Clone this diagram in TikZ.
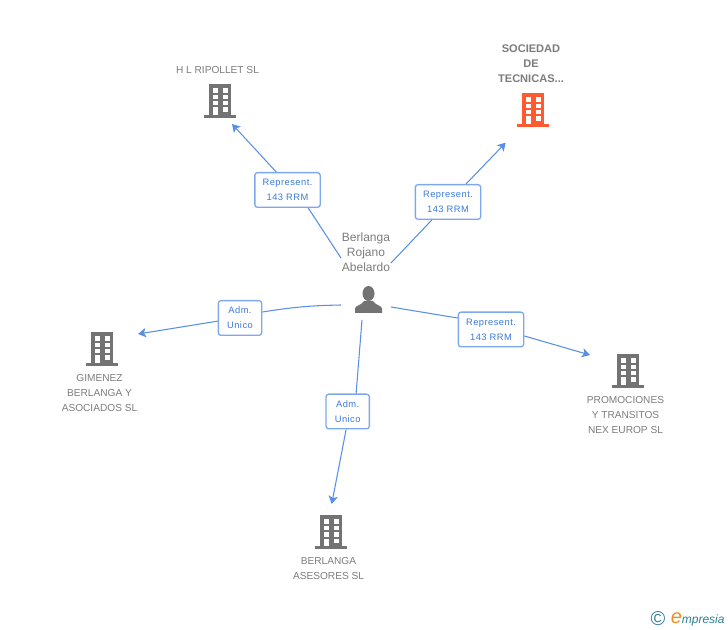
\documentclass[tikz,border=0pt]{standalone}
\usepackage{fontspec}
\usepackage{xcolor}
\setmainfont{Liberation Sans}
\newfontfamily\logofont{Liberation Sans}
\usetikzlibrary{arrows.meta}
\definecolor{linkblue}{HTML}{5A90E4}
\definecolor{boxblue}{HTML}{7DA9EC}
\definecolor{textblue}{HTML}{3A7BDC}
\definecolor{icongray}{HTML}{737373}
\definecolor{captiongray}{HTML}{7C7C7C}
\definecolor{iconred}{HTML}{FF5A30}
\definecolor{logoteal}{HTML}{2F7F98}
\definecolor{logoorange}{HTML}{F28A1E}
\tikzset{
  link/.style={draw=linkblue,line width=0.8pt},
  arrowlink/.style={link,-{Stealth[length=6pt,width=7pt,inset=1.5pt]}},
  tagbox/.style={draw=boxblue,line width=1pt,fill=white,rounded corners=2pt,align=center,
    inner sep=0pt,minimum height=26pt,text=textblue,font=\fontsize{7}{11.25}\selectfont\addfontfeature{LetterSpace=5}},
  reptag/.style={tagbox,minimum width=49pt},
  admtag/.style={tagbox,minimum width=32.5pt},
  caption/.style={align=center,text=captiongray,inner sep=0pt,font=\fontsize{7.6}{11.25}\selectfont},
  iconspot/.style={inner sep=0pt,minimum size=0pt},
  pics/buildingicon/.style={code={
    \fill[#1] (-11,-16) rectangle (11,16);
    \fill[#1] (-16,15) rectangle (16,17.6);
    \fill[white] (-7.5,-12) rectangle (-2.3,-7.2);
    \fill[white] (2.5,-12) rectangle (8,-7.2);
    \fill[white] (-7.5,-5.2) rectangle (-2.3,-0.8);
    \fill[white] (2.5,-5.2) rectangle (8,-0.8);
    \fill[white] (-7.5,1.1) rectangle (-2.3,5.5);
    \fill[white] (2.5,1.1) rectangle (8,5.5);
    \fill[white] (-7,7.5) rectangle (-2.3,15);
    \fill[white] (2.5,7.5) rectangle (8,12.2);
  }},
  pics/personicon/.style={code={
    \fill[#1] (0,-6.5) ellipse (6 and 7.5);
    \fill[#1] (-13.5,13) -- (-13.5,8.5) .. controls (-13.5,5.5) and (-7,5.5) .. (-4.5,1) -- (4.5,1)
      .. controls (7,5.5) and (13.5,5.5) .. (13.5,8.5) -- (13.5,13) -- cycle;
  }}
}
\begin{document}
\begin{tikzpicture}[x=0.75pt,y=-0.75pt]
\useasboundingbox (0,0) rectangle (728,630);

\node[iconspot] (person) at (368.5,300) {};
\node[iconspot] (ripollet) at (220,100) {};
\node[iconspot] (sociedad) at (533,109) {};
\node[iconspot] (gimenez) at (102,348) {};
\node[iconspot] (asesores) at (331,531) {};
\node[iconspot] (transitos) at (628,370) {};
\pic at (person) {personicon=icongray};
\pic at (ripollet) {buildingicon=icongray};
\pic at (sociedad) {buildingicon=iconred};
\pic at (gimenez) {buildingicon=icongray};
\pic at (asesores) {buildingicon=icongray};
\pic at (transitos) {buildingicon=icongray};

\node[caption,font=\fontsize{9}{11.25}\selectfont] (personname) at (366,252) {Berlanga\\Rojano\\Abelardo};
\node[caption] (ripolletname) at (217.5,70) {H L RIPOLLET SL};
\node[caption,font=\fontsize{8.3}{11.25}\selectfont\bfseries] (sociedadname) at (531,63.5) {SOCIEDAD\\DE\\TECNICAS...};
\node[caption] (gimenezname) at (99.5,393) {GIMENEZ\\BERLANGA Y\\ASOCIADOS SL};
\node[caption] (asesoresname) at (328.5,568.5) {BERLANGA\\ASESORES SL};
\node[caption] (transitosname) at (625.5,415) {PROMOCIONES\\Y TRANSITOS\\NEX EUROP SL};

\node[reptag] (tagripollet) at (287.5,190) {Represent.\\143 RRM};
\node[reptag] (tagsociedad) at (448,202) {Represent.\\143 RRM};
\node[reptag] (tagtransitos) at (491,329.5) {Represent.\\143 RRM};
\node[admtag] (taggimenez) at (240,318) {Adm.\\Unico};
\node[admtag] (tagasesores) at (347.7,411.5) {Adm.\\Unico};

\coordinate (startripollet) at (341,258);
\coordinate (startsociedad) at (391,263);
\coordinate (starttransitos) at (391,307);
\coordinate (startgimenez) at (341,305);
\coordinate (startasesores) at (362,320);
\coordinate (endripollet) at (232,124);
\coordinate (endsociedad) at (505.7,142.7);
\coordinate (endtransitos) at (590,355);
\coordinate (endgimenez) at (138,334);
\coordinate (endasesores) at (331.7,504);

\draw[link] (startripollet) -- (tagripollet.-41);
\draw[arrowlink] (tagripollet.122) -- (endripollet);
\draw[link] (startsociedad) -- (tagsociedad.-132);
\draw[arrowlink] (tagsociedad.45) -- (endsociedad);
\draw[link] (starttransitos) -- (tagtransitos.161);
\draw[arrowlink] (tagtransitos.-11) -- (endtransitos);
\draw[link] (startgimenez) to[bend right=4] (taggimenez.15);
\draw[arrowlink] (taggimenez.-172) -- (endgimenez);
\draw[link] (startasesores) -- (tagasesores.65);
\draw[arrowlink] (tagasesores.-95) -- (endasesores);

\node[inner sep=0pt,text=logoteal,font=\fontsize{15}{15}\selectfont] (logomark) at (658,619) {\textcopyright};
\node[inner sep=0pt,text=logoteal,anchor=west,font=\logofont\itshape\fontsize{9}{10}\selectfont] (logoname) at (670.5,619) {{\fontsize{15}{15}\selectfont\color{logoorange}e}mpresia};
\end{tikzpicture}
\end{document}
